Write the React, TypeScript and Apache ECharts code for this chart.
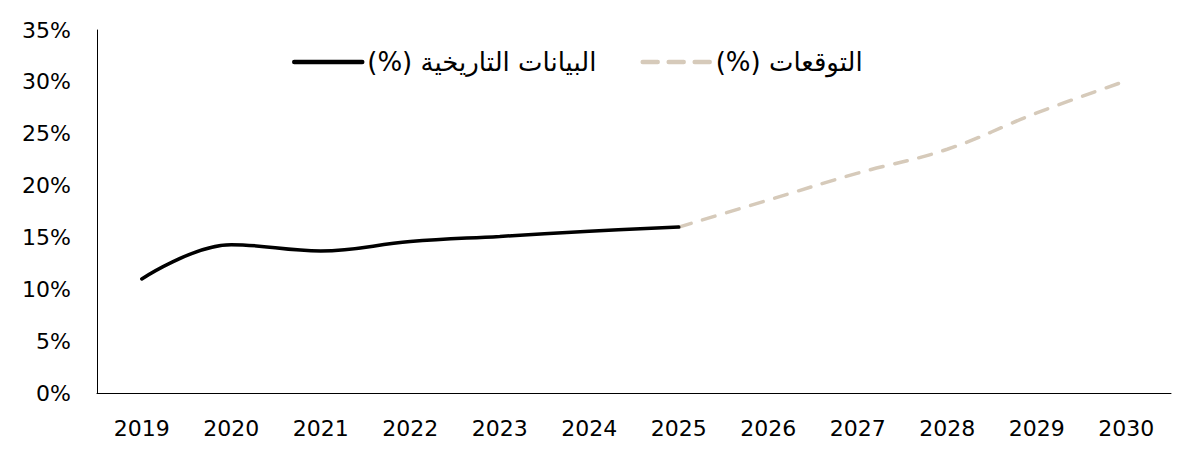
import React, { useEffect, useRef } from "react";
import * as echarts from "echarts";

const years = ["2019", "2020", "2021", "2022", "2023", "2024", "2025", "2026", "2027", "2028", "2029", "2030"];
const historical = [11.0, 14.3, 13.7, 14.6, 15.1, 15.6, 16.0, null, null, null, null, null];
const forecast = [null, null, null, null, null, null, 16.0, 18.6, 21.2, 23.5, 27.0, 30.1];
const historicalName = "البيانات التاريخية (%)";
const forecastName = "التوقعات (%)";

const FONT = "'DejaVu Sans', Verdana, sans-serif";
const HIST_COLOR = "#000000";
const FORECAST_COLOR = "#D6CABA";

export default function App() {
  const ref = useRef<HTMLDivElement>(null);

  useEffect(() => {
    document.body.style.margin = "0";
    if (!ref.current) return;
    const chart = echarts.init(ref.current, undefined, { renderer: "svg" });
    chart.setOption({
      animation: false,
      textStyle: { fontFamily: FONT },
      grid: { left: 97, right: 29, top: 30, bottom: 70 },
      legend: {
        left: 287,
        top: 44,
        itemWidth: 68,
        itemHeight: 14,
        itemGap: 44,
        itemStyle: { opacity: 0 },
        // trailing RLM keeps the "(%)" on the left of the Arabic run
        formatter: (name: string) => name + "\u200F",
        textStyle: { fontFamily: FONT, fontSize: 26, color: "#000" },
        data: [
          { name: historicalName, lineStyle: { color: HIST_COLOR, width: 4.5, type: "solid", cap: "round" } },
          { name: forecastName, lineStyle: { color: FORECAST_COLOR, width: 4.5, type: [15, 11], cap: "round" } },
        ],
      },
      xAxis: {
        type: "category",
        data: years,
        boundaryGap: true,
        axisLine: { show: true, lineStyle: { color: "#000", width: 1 } },
        axisTick: { show: false },
        axisLabel: { color: "#000", fontSize: 22, margin: 24, fontFamily: FONT },
      },
      yAxis: {
        type: "value",
        min: 0,
        max: 35,
        interval: 5,
        axisLine: { show: true, lineStyle: { color: "#000", width: 1 } },
        axisTick: { show: false },
        splitLine: { show: false },
        axisLabel: {
          color: "#000",
          fontSize: 22,
          margin: 26,
          fontFamily: FONT,
          formatter: (v: number) => v + "%",
        },
      },
      series: [
        {
          name: historicalName,
          type: "line",
          data: historical,
          smooth: 0.4,
          symbol: "none",
          lineStyle: { color: HIST_COLOR, width: 3.5, cap: "round" },
          itemStyle: { color: HIST_COLOR },
          z: 3,
        },
        {
          name: forecastName,
          type: "line",
          data: forecast,
          smooth: 0.4,
          symbol: "none",
          lineStyle: { color: FORECAST_COLOR, width: 3.5, type: [13, 12], cap: "round" },
          itemStyle: { color: FORECAST_COLOR },
          z: 2,
        },
      ],
    });
    return () => chart.dispose();
  }, []);

  return <div ref={ref} style={{ width: 1200, height: 463 }} />;
}
